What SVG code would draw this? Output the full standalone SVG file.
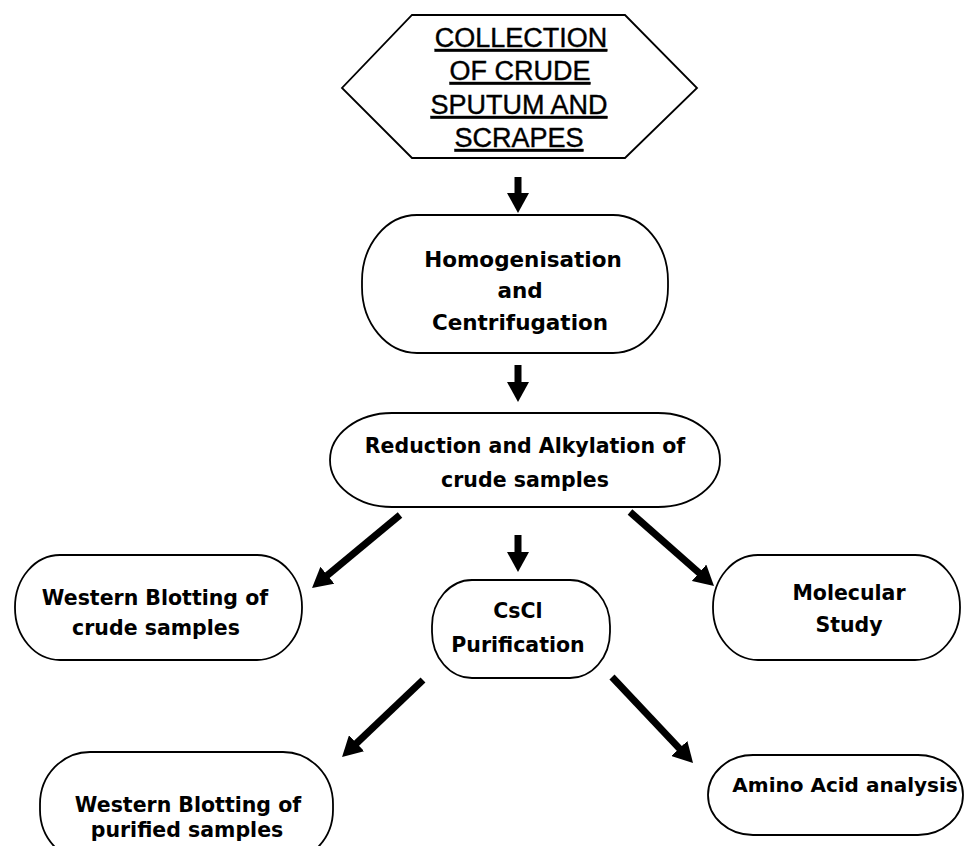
<svg xmlns="http://www.w3.org/2000/svg" width="966" height="846" viewBox="0 0 966 846">
<style>
.box{fill:#fff;stroke:#000;stroke-width:1.8}
.t{font-family:"DejaVu Sans","Verdana",sans-serif;font-weight:bold;font-size:20.5px;fill:#000;text-anchor:middle}
.big{font-size:21.5px}
.h{font-family:"Liberation Sans",Arial,sans-serif;font-size:27px;fill:#000;stroke:#000;stroke-width:0.4;text-anchor:middle;text-decoration:underline}
.c{stroke:#000;stroke-width:7;fill:none;marker-end:url(#ah)}
</style>
<defs>
<marker id="ah" markerUnits="userSpaceOnUse" viewBox="0 0 20 22" markerWidth="20" markerHeight="22" refX="2" refY="11" orient="auto">
<path d="M0,0 L20,11 L0,22 z" fill="#000"/>
</marker>
</defs>
<rect width="966" height="846" fill="#fff"/>
<g id="connectors">
<line class="c" x1="518" y1="177" x2="518" y2="195"/>
<line class="c" x1="518" y1="365" x2="518" y2="384"/>
<line class="c" x1="518" y1="535" x2="518" y2="554"/>
<line class="c" x1="400" y1="515" x2="325.9" y2="576.5"/>
<line class="c" x1="630" y1="512" x2="700.5" y2="574.1"/>
<line class="c" x1="423" y1="680" x2="355.1" y2="744.6"/>
<line class="c" x1="612" y1="677" x2="680.7" y2="749.9"/>
</g>
<g id="collection">
<polygon class="box" points="412,15 625,15 697,88 625,158 412,158 342,88"/>
<text class="h" x="521" y="47">COLLECTION</text>
<text class="h" x="520" y="80">OF CRUDE</text>
<text class="h" x="519" y="114">SPUTUM AND</text>
<text class="h" x="519" y="147">SCRAPES</text>
</g>
<g id="homogenisation">
<rect class="box" x="362" y="215" width="306" height="138" rx="55" ry="66"/>
<text class="t big" x="523" y="267">Homogenisation</text>
<text class="t big" x="520" y="298">and</text>
<text class="t big" x="520" y="330">Centrifugation</text>
</g>
<g id="reduction">
<rect class="box" x="330" y="413" width="390" height="94" rx="62" ry="47"/>
<text class="t" x="525" y="453">Reduction and Alkylation of</text>
<text class="t" x="525" y="487">crude samples</text>
</g>
<g id="western-crude">
<rect class="box" x="15" y="555" width="287" height="105" rx="45" ry="52"/>
<text class="t" x="155" y="605">Western Blotting of</text>
<text class="t" x="156" y="635">crude samples</text>
</g>
<g id="cscl">
<rect class="box" x="432" y="580" width="178" height="98" rx="40" ry="46"/>
<text class="t" x="518" y="618">CsCl</text>
<text class="t" x="518" y="652">Purification</text>
</g>
<g id="molecular">
<rect class="box" x="713" y="555" width="247" height="105" rx="45" ry="52"/>
<text class="t" x="849" y="600">Molecular</text>
<text class="t" x="849" y="632">Study</text>
</g>
<g id="western-purified">
<rect class="box" x="40" y="752" width="293" height="110" rx="50" ry="52"/>
<text class="t" x="188" y="812">Western Blotting of</text>
<text class="t" x="187" y="837">purified samples</text>
</g>
<g id="amino">
<rect class="box" x="708" y="755" width="255" height="80" rx="45" ry="40"/>
<text class="t" x="845" y="792" style="font-size:20px">Amino Acid analysis</text>
</g>
</svg>
